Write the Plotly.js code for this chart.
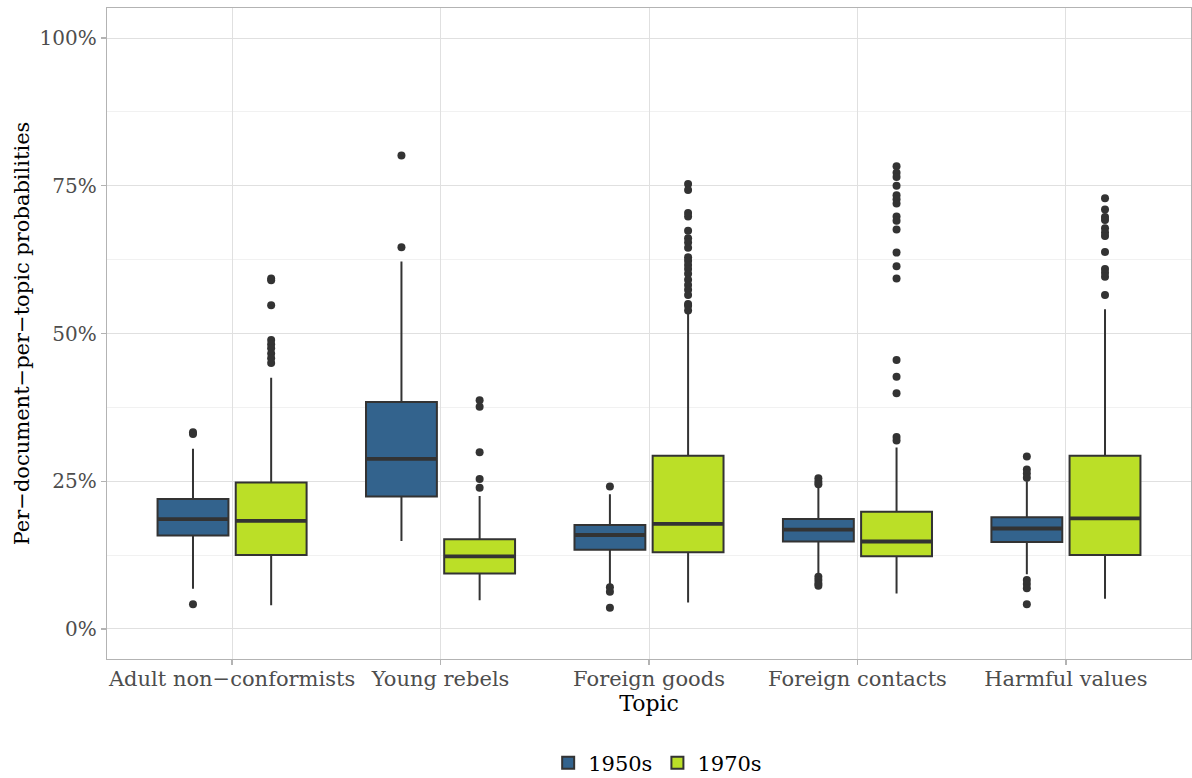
<!DOCTYPE html>
<html>
<head>
<meta charset="utf-8">
<script src="https://cdn.plot.ly/plotly-3.0.1.min.js"></script>
<style>html,body{margin:0;padding:0;background:#fff;}#chart{width:1192px;height:778px;}</style>
</head>
<body>
<div id="chart"></div>
<script>
// ---- Data (as fractions) ----
const topics = ["Adult non\u2212conformists", "Young rebels", "Foreign goods", "Foreign contacts", "Harmful values"];
const decades = ["1950s", "1970s"];

// 1950s box statistics
const lower1950  = [0.068, 0.149, 0.074, 0.094, 0.0925];
const q1_1950    = [0.158, 0.224, 0.134, 0.148, 0.147];
const median1950 = [0.186, 0.288, 0.159, 0.168, 0.170];
const q3_1950    = [0.220, 0.384, 0.176, 0.186, 0.189];
const upper1950  = [0.305, 0.622, 0.228, 0.240, 0.250];
const outliers1950 = [
  [0.333, 0.330, 0.042],
  [0.801, 0.646],
  [0.241, 0.0705, 0.063, 0.036],
  [0.255, 0.249, 0.245, 0.0885, 0.083, 0.077, 0.073],
  [0.292, 0.270, 0.263, 0.256, 0.083, 0.076, 0.069, 0.042]
];

// 1970s box statistics
const lower1970  = [0.040, 0.0485, 0.045, 0.060, 0.051];
const q1_1970    = [0.125, 0.094, 0.130, 0.123, 0.125];
const median1970 = [0.183, 0.123, 0.178, 0.148, 0.187];
const q3_1970    = [0.248, 0.152, 0.293, 0.1985, 0.293];
const upper1970  = [0.425, 0.225, 0.534, 0.307, 0.541];
const outliers1970 = [
  [0.593, 0.590, 0.548, 0.489, 0.482, 0.475, 0.466, 0.458, 0.450],
  [0.387, 0.376, 0.299, 0.254, 0.239],
  [0.753, 0.743, 0.704, 0.698, 0.674, 0.661, 0.654, 0.645, 0.629, 0.623, 0.616, 0.609, 0.601, 0.591, 0.582, 0.574, 0.565, 0.550, 0.547, 0.539],
  [0.783, 0.772, 0.765, 0.750, 0.734, 0.727, 0.720, 0.698, 0.691, 0.676, 0.637, 0.614, 0.593, 0.455, 0.427, 0.399, 0.325, 0.319],
  [0.729, 0.710, 0.697, 0.692, 0.678, 0.671, 0.665, 0.638, 0.609, 0.603, 0.596, 0.565]
];

const yTickVals = [0, 0.25, 0.5, 0.75, 1];

// ---- Styling ----
const colors = {"1950s": "#33638D", "1970s": "#BBDF27"};
const ink = "#333333";
const dodge = 0.1875;
const boxWidth = 0.34;
const fontFamily = "DejaVu Serif, Liberation Serif, serif";

const idx = topics.map((_, i) => i);

function boxTrace(name, pos, lo, q1, med, q3, hi) {
  return {
    type: "box", name: name, x: pos,
    q1: q1, median: med, q3: q3, lowerfence: lo, upperfence: hi,
    width: boxWidth, fillcolor: colors[name],
    line: {color: ink, width: 2}, whiskerwidth: 0,
    boxpoints: false, hoverinfo: "skip", legendgroup: name
  };
}
function medianTrace(name, pos, med) {
  return {
    type: "box", name: name + " median", x: pos,
    q1: med, median: med, q3: med, lowerfence: med, upperfence: med,
    width: boxWidth, fillcolor: "rgba(0,0,0,0)",
    line: {color: ink, width: 3.8}, whiskerwidth: 0,
    boxpoints: false, hoverinfo: "skip", showlegend: false, legendgroup: name
  };
}
function outlierTrace(name, off, outs) {
  const xs = [], ys = [];
  outs.forEach((arr, i) => arr.forEach(v => { xs.push(i + off); ys.push(v); }));
  return {
    type: "scatter", mode: "markers", x: xs, y: ys, name: name + " outliers",
    marker: {color: ink, size: 8, line: {width: 0}},
    hoverinfo: "skip", showlegend: false, legendgroup: name
  };
}

const pos50 = idx.map(i => i - dodge);
const pos70 = idx.map(i => i + dodge);

const data = [
  boxTrace("1950s", pos50, lower1950, q1_1950, median1950, q3_1950, upper1950),
  boxTrace("1970s", pos70, lower1970, q1_1970, median1970, q3_1970, upper1970),
  medianTrace("1950s", pos50, median1950),
  medianTrace("1970s", pos70, median1970),
  outlierTrace("1950s", -dodge, outliers1950),
  outlierTrace("1970s", dodge, outliers1970)
];

const layout = {
  width: 1192, height: 778,
  margin: {l: 107, r: 1, t: 8, b: 119, autoexpand: false},
  paper_bgcolor: "#ffffff", plot_bgcolor: "#ffffff",
  font: {family: fontFamily, size: 20, color: "#000000"},
  showlegend: true,
  hovermode: false,
  legend: {
    orientation: "h", x: 0.508, xanchor: "center", y: -0.16, yanchor: "middle",
    font: {family: fontFamily, size: 21, color: "#000000"},
    traceorder: "normal", itemwidth: 30
  },
  xaxis: {
    range: [-0.6, 4.6], automargin: false,
    tickmode: "array", tickvals: idx, ticktext: topics,
    showgrid: true, gridcolor: "#E0E0E0", gridwidth: 1,
    zeroline: false,
    showline: true, mirror: true, linecolor: "#B3B3B3", linewidth: 1.3,
    ticks: "outside", ticklen: 5, tickcolor: "#B3B3B3", tickwidth: 1.2,
    ticklabelstandoff: -5,
    tickfont: {family: fontFamily, size: 21, color: "#4D4D4D"},
    title: {text: "Topic", font: {family: fontFamily, size: 22, color: "#000000"}, standoff: 4}
  },
  yaxis: {
    range: [-0.0508, 1.0508], automargin: false,
    tickmode: "array", tickvals: yTickVals, tickformat: ".0%",
    showgrid: true, gridcolor: "#E0E0E0", gridwidth: 1,
    minor: {dtick: 0.125, tick0: 0, showgrid: true, gridcolor: "#EEEEEE", gridwidth: 0.8, ticks: ""},
    zeroline: false,
    showline: true, mirror: true, linecolor: "#B3B3B3", linewidth: 1.3,
    ticks: "outside", ticklen: 5, tickcolor: "#B3B3B3", tickwidth: 1.2,
    tickfont: {family: fontFamily, size: 20, color: "#4D4D4D"},
    title: {text: "Per\u2212document\u2212per\u2212topic probabilities", font: {family: fontFamily, size: 21, color: "#000000"}, standoff: 4}
  }
};

Plotly.newPlot("chart", data, layout, {displayModeBar: false, staticPlot: true});
</script>
</body>
</html>
